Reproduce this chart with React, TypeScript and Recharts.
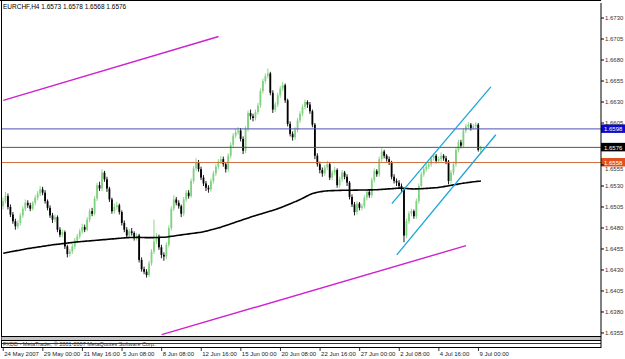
import React from 'react';
import { ComposedChart, Bar, Line, XAxis, YAxis, ReferenceLine } from 'recharts';

// EURCHF H4 candles, prices stored as pips above 1.6000
const symbol = 'EURCHF,H4';

const opens = [
  506, 512, 518, 505, 496, 488, 482, 486, 495, 503,
  510, 507, 503, 510, 516, 521, 526, 522, 512, 504,
  495, 490, 493, 478, 472, 475, 458, 449, 452, 458,
  465, 470, 476, 481, 478, 490, 500, 497, 515, 531,
  527, 546, 538, 527, 514, 500, 505, 507, 499, 486,
  478, 471, 476, 474, 468, 471, 442, 431, 428, 424,
  438, 452, 464, 469, 457, 448, 446, 460, 480, 503,
  514, 510, 506, 497, 514, 522, 518, 536, 551, 558,
  550, 540, 533, 528, 526, 536, 545, 553, 559, 562,
  556, 550, 566, 579, 590, 594, 596, 586, 572, 598,
  617, 613, 611, 618, 626, 643, 655, 661, 664, 641,
  621, 627, 638, 646, 650, 632, 604, 592, 588, 597,
  608, 616, 624, 630, 627, 619, 603, 566, 556, 549,
  545, 552, 556, 540, 546, 549, 531, 538, 546, 541,
  534, 517, 508, 499, 509, 504, 506, 516, 523, 519,
  537, 548, 544, 562, 571, 566, 562, 558, 541, 536,
  534, 530, 526, 471, 488, 497, 500, 494, 512, 530,
  544, 550, 553, 556, 563, 566, 560, 562, 566, 563,
  559, 536, 546, 556, 573, 582, 578, 596, 601, 603,
  599, 601, 603, 573,
];

const highs = [
  516, 523, 521, 508, 499, 491, 489, 498, 506, 514,
  513, 510, 512, 519, 524, 530, 529, 525, 514, 507,
  498, 496, 495, 481, 478, 477, 460, 455, 461, 468,
  473, 479, 485, 484, 493, 503, 504, 518, 534, 535,
  550, 548, 541, 529, 516, 509, 511, 509, 501, 489,
  481, 479, 480, 476, 474, 473, 445, 434, 431, 441,
  455, 490, 474, 472, 460, 451, 463, 483, 506, 519,
  517, 513, 508, 517, 525, 525, 539, 554, 563, 561,
  553, 543, 536, 531, 539, 548, 556, 562, 566, 565,
  558, 569, 582, 593, 598, 600, 599, 589, 601, 620,
  621, 616, 621, 629, 646, 658, 664, 670, 666, 644,
  630, 641, 649, 654, 652, 634, 607, 595, 600, 611,
  619, 627, 633, 632, 630, 621, 605, 569, 559, 552,
  555, 560, 558, 549, 553, 551, 541, 549, 548, 544,
  536, 520, 511, 512, 511, 509, 519, 526, 526, 540,
  551, 550, 565, 575, 573, 568, 565, 560, 544, 539,
  537, 533, 528, 491, 500, 503, 502, 515, 533, 547,
  553, 557, 559, 566, 569, 568, 565, 570, 568, 566,
  561, 549, 559, 576, 585, 585, 599, 604, 606, 605,
  604, 606, 605, 578,
];

const lows = [
  502, 509, 502, 493, 485, 478, 479, 483, 492, 500,
  504, 500, 501, 507, 513, 518, 519, 509, 501, 492,
  486, 487, 475, 469, 469, 455, 445, 446, 449, 455,
  462, 467, 473, 475, 476, 487, 494, 495, 512, 524,
  524, 535, 523, 511, 497, 497, 502, 496, 483, 475,
  468, 468, 471, 465, 465, 439, 428, 425, 421, 422,
  435, 449, 461, 454, 444, 441, 443, 457, 477, 500,
  507, 503, 493, 494, 511, 515, 516, 533, 548, 547,
  537, 530, 524, 522, 523, 533, 542, 550, 556, 553,
  546, 547, 563, 576, 587, 591, 583, 568, 569, 595,
  609, 607, 608, 615, 623, 640, 652, 658, 638, 617,
  618, 624, 635, 643, 629, 601, 589, 584, 585, 594,
  605, 613, 621, 623, 616, 600, 562, 553, 545, 541,
  542, 549, 537, 537, 543, 528, 528, 535, 538, 530,
  514, 505, 495, 496, 501, 501, 503, 513, 516, 516,
  534, 541, 541, 559, 563, 559, 555, 538, 533, 530,
  527, 522, 463, 468, 485, 494, 491, 491, 509, 527,
  541, 547, 550, 553, 560, 557, 557, 559, 560, 556,
  532, 533, 543, 553, 570, 575, 575, 593, 598, 596,
  597, 598, 571, 568,
];

const closes = [
  512, 518, 505, 496, 488, 482, 486, 495, 503, 510,
  507, 503, 510, 516, 521, 526, 522, 512, 504, 495,
  490, 493, 478, 472, 475, 458, 449, 452, 458, 465,
  470, 476, 481, 478, 490, 500, 497, 515, 531, 527,
  546, 538, 527, 514, 500, 505, 507, 499, 486, 478,
  471, 476, 474, 468, 471, 442, 431, 428, 424, 438,
  452, 464, 469, 457, 448, 446, 460, 480, 503, 514,
  510, 506, 497, 514, 522, 518, 536, 551, 558, 550,
  540, 533, 528, 526, 536, 545, 553, 559, 562, 556,
  550, 566, 579, 590, 594, 596, 586, 572, 598, 617,
  613, 611, 618, 626, 643, 655, 661, 664, 641, 621,
  627, 638, 646, 650, 632, 604, 592, 588, 597, 608,
  616, 624, 630, 627, 619, 603, 566, 556, 549, 545,
  552, 556, 540, 546, 549, 531, 538, 546, 541, 534,
  517, 508, 499, 509, 504, 506, 516, 523, 519, 537,
  548, 544, 562, 571, 566, 562, 558, 541, 536, 534,
  530, 526, 471, 488, 497, 500, 494, 512, 530, 544,
  550, 553, 556, 563, 566, 560, 562, 566, 563, 559,
  536, 546, 556, 573, 582, 578, 596, 601, 603, 599,
  601, 603, 573, 576,
];

// long moving average (black line)
const maValues = [
  450.0, 450.6, 451.1, 451.7, 452.2, 452.8, 453.3, 453.9, 454.4, 455.0, 455.5,
  455.9, 456.4, 456.8, 457.3, 457.7, 458.2, 458.6, 459.1, 459.5, 460.0,
  460.3, 460.7, 461.0, 461.4, 461.7, 462.1, 462.4, 462.8, 463.1, 463.5,
  463.7, 464.0, 464.2, 464.5, 464.7, 465.0, 465.2, 465.5, 465.7, 466.0,
  466.2, 466.5, 466.7, 467.0, 467.2, 467.5, 467.7, 468.0, 468.2, 468.5,
  468.6, 468.7, 468.7, 468.8, 468.8, 468.7, 468.6, 468.5, 468.5, 468.5,
  468.6, 468.7, 468.8, 468.9, 469.0, 469.3, 469.7, 470.1, 470.5, 471.0,
  471.4, 471.8, 472.2, 472.6, 473.0, 473.4, 473.8, 474.2, 474.6, 475.0,
  475.6, 476.3, 477.0, 477.8, 478.6, 479.4, 480.2, 481.0, 482.0, 483.0,
  484.0, 485.0, 486.0, 487.0, 488.0, 489.0, 490.0, 491.0, 492.0, 493.0,
  493.9, 494.8, 495.7, 496.6, 497.5, 498.4, 499.3, 500.2, 501.1, 502.0,
  503.1, 504.2, 505.4, 506.6, 507.8, 509.0, 510.2, 511.4, 512.7, 514.0,
  515.5, 517.0, 518.5, 519.8, 521.0,
  521.8, 522.5, 523.1, 523.6, 524.0,
  524.2, 524.4, 524.5, 524.6, 524.7, 524.8, 524.9, 524.9, 525.0, 525.0,
  525.0, 525.1, 525.1, 525.2, 525.2, 525.3, 525.3, 525.4, 525.4, 525.5,
  525.6, 525.8, 526.0, 526.2, 526.4, 526.6, 526.8, 527.0, 527.3, 527.5,
  527.4, 527.2, 527.0, 526.8, 526.6, 526.5,
  526.6, 526.7, 526.8, 527.0, 527.2, 527.4, 527.6, 527.8, 528.0,
  528.4, 528.8, 529.3, 529.8, 530.3, 530.8, 531.3, 531.8, 532.4, 533.0,
  533.4, 533.8, 534.2, 534.6, 535.0, 535.3, 535.7, 536.0,
];

const timeTicks = [0, 16, 32, 48, 64, 80, 96, 112, 128, 144, 160, 176, 192];
const timeLabels = [
  '24 May 2007', '29 May 00:00', '31 May 16:00', '5 Jun 08:00', '8 Jun 08:00',
  '12 Jun 16:00', '15 Jun 00:00', '20 Jun 08:00', '22 Jun 16:00', '27 Jun 00:00',
  '2 Jul 08:00', '4 Jul 16:00', '9 Jul 00:00',
];

// 1.6580 sits under the 1.6576 tag in the terminal, so it is not listed
const priceTicks = [355, 380, 405, 430, 455, 480, 505, 530, 555, 605, 630, 655, 680, 705, 730];

// horizontal levels: blue, grey, orange
const levelPrices = [598, 576, 558];

// trend lines: [bar, price] pairs
const magentaLines = [
  { x1: 0, y1: 632, x2: 87, y2: 708 },
  { x1: 64, y1: 353, x2: 187, y2: 459 },
];
const channelLines = [
  { x1: 157, y1: 509, x2: 197, y2: 648 },
  { x1: 159, y1: 448, x2: 199, y2: 591 },
];

const SLOTS = 242;
const BULL = '#7fd27f';
const BEAR = '#000000';
const FONT = '"Liberation Sans", Arial, sans-serif';

const fmt = (v: number) => (1.6 + v / 10000).toFixed(4);

const data = Array.from({ length: SLOTS }, (_, i) =>
  i < closes.length
    ? { i, o: opens[i], h: highs[i], l: lows[i], c: closes[i], range: [lows[i], highs[i]], ma: maValues[i] }
    : { i, range: null, ma: null }
);

const Candle = (props: any) => {
  const { x, y, width, height, payload } = props;
  if (!payload || payload.o == null) return null;
  const top = Math.min(y, y + height);
  const bottom = Math.max(y, y + height);
  const span = payload.h - payload.l || 1;
  const toY = (p: number) => top + ((payload.h - p) / span) * (bottom - top);
  const cx = x + width / 2;
  const color = payload.c >= payload.o ? BULL : BEAR;
  const bTop = toY(Math.max(payload.o, payload.c));
  const bBot = toY(Math.min(payload.o, payload.c));
  return (
    <g>
      <line x1={cx} x2={cx} y1={top} y2={bottom} stroke={color} strokeWidth={0.9} />
      <rect x={cx - 0.9} y={bTop} width={1.8} height={Math.max(bBot - bTop, 0.8)} fill={color} />
    </g>
  );
};

const TimeTick = (props: any) => {
  const { x, y, payload } = props;
  const idx = timeTicks.indexOf(payload.value);
  if (idx < 0) return null;
  return (
    <g>
      <line x1={x} x2={x} y1={y + 12} y2={y + 15} stroke="#000" strokeWidth={0.8} />
      <text x={x + 1} y={y + 19.5} fontSize={6} fill="#222" fontFamily={FONT}>
        {timeLabels[idx]}
      </text>
    </g>
  );
};

// price axis tick; the 1.6555 label is pushed below the orange tag like in the terminal
const PriceTick = (props: any) => {
  const { x, y, payload } = props;
  const shift = payload.value === 555 ? 3.5 : 0;
  return (
    <text x={x} y={y + 2 + shift} fontSize={6} fill="#333" fontFamily={FONT}>
      {fmt(payload.value)}
    </text>
  );
};

const PriceTag = (props: any) => {
  const { viewBox, text, fill } = props;
  if (!viewBox) return null;
  const left = viewBox.x + viewBox.width;
  return (
    <g>
      <rect x={left} y={viewBox.y - 4.5} width={24} height={8.5} fill={fill} />
      <text x={left + 3} y={viewBox.y + 2.2} fontSize={6} fill="#fff" fontFamily={FONT}>
        {text}
      </text>
    </g>
  );
};

const levelStyles = [
  { line: '#4f4fb2', tag: '#0b0bd0' },
  { line: '#555555', tag: '#000000' },
  { line: '#cf7040', tag: '#e0521c' },
];

const last = closes.length - 1;
const header = `${symbol}  ${fmt(opens[last])} ${fmt(highs[last])} ${fmt(lows[last])} ${fmt(closes[last])}`;

export default function App() {
  return (
    <div style={{ position: 'absolute', left: 0, top: 0, width: 625, height: 359, background: '#fff' }}>
      <ComposedChart
        width={625}
        height={359}
        data={data}
        margin={{ top: 3, right: 0, bottom: 0, left: 2 }}
        barCategoryGap={0}
      >
        <XAxis
          dataKey="i"
          type="category"
          ticks={timeTicks}
          interval={0}
          height={23}
          axisLine={false}
          tickLine={false}
          tickSize={0}
          tickMargin={0}
          tick={<TimeTick />}
        />
        <YAxis
          orientation="right"
          width={24}
          domain={[351.4, 747.9]}
          allowDataOverflow
          ticks={priceTicks}
          interval={0}
          tickSize={3}
          tickMargin={1}
          axisLine={{ stroke: '#000' }}
          tickLine={{ stroke: '#000' }}
          tick={<PriceTick />}
        />
        {levelPrices.map((p, k) => (
          <ReferenceLine
            key={`lvl-${k}`}
            y={p}
            stroke={levelStyles[k].line}
            strokeWidth={1}
            label={<PriceTag text={fmt(p)} fill={levelStyles[k].tag} />}
          />
        ))}
        <Line
          dataKey="ma"
          type="monotone"
          stroke="#000"
          strokeWidth={1.6}
          dot={false}
          isAnimationActive={false}
        />
        <Bar dataKey="range" shape={<Candle />} isAnimationActive={false} />
        {magentaLines.map((t, k) => (
          <ReferenceLine
            key={`mg-${k}`}
            segment={[{ x: t.x1, y: t.y1 }, { x: t.x2, y: t.y2 }]}
            stroke="#d020d0"
            strokeWidth={1.4}
            ifOverflow="visible"
          />
        ))}
        {channelLines.map((t, k) => (
          <ReferenceLine
            key={`ch-${k}`}
            segment={[{ x: t.x1, y: t.y1 }, { x: t.x2, y: t.y2 }]}
            stroke="#1aa6d8"
            strokeWidth={1.3}
            ifOverflow="visible"
          />
        ))}
      </ComposedChart>
      <svg
        width={625}
        height={359}
        style={{ position: 'absolute', left: 0, top: 0, pointerEvents: 'none' }}
      >
        <text x={3} y={9} fontSize={6.5} fill="#000" fontFamily={FONT}>
          {header}
        </text>
        <line x1={0} x2={601} y1={0.5} y2={0.5} stroke="#000" />
        <line x1={1.5} x2={1.5} y1={0} y2={348} stroke="#000" />
        <line x1={1.5} x2={601} y1={336.5} y2={336.5} stroke="#000" />
        <rect x={1.5} y={337} width={599.5} height={3} fill="#c4c4c4" />
        <line x1={1.5} x2={601} y1={340.5} y2={340.5} stroke="#000" />
        <line x1={1.5} x2={601} y1={343.5} y2={343.5} stroke="#000" strokeWidth={0.8} />
        <text x={3} y={345.5} fontSize={5.5} fill="#333" fontFamily={FONT}>
          FXDD - MetaTrader, © 2001-2007 MetaQuotes Software Corp.
        </text>
        <line x1={1.5} x2={601} y1={347.5} y2={347.5} stroke="#000" />
        <line x1={601} x2={601} y1={336} y2={348} stroke="#000" />
      </svg>
    </div>
  );
}
